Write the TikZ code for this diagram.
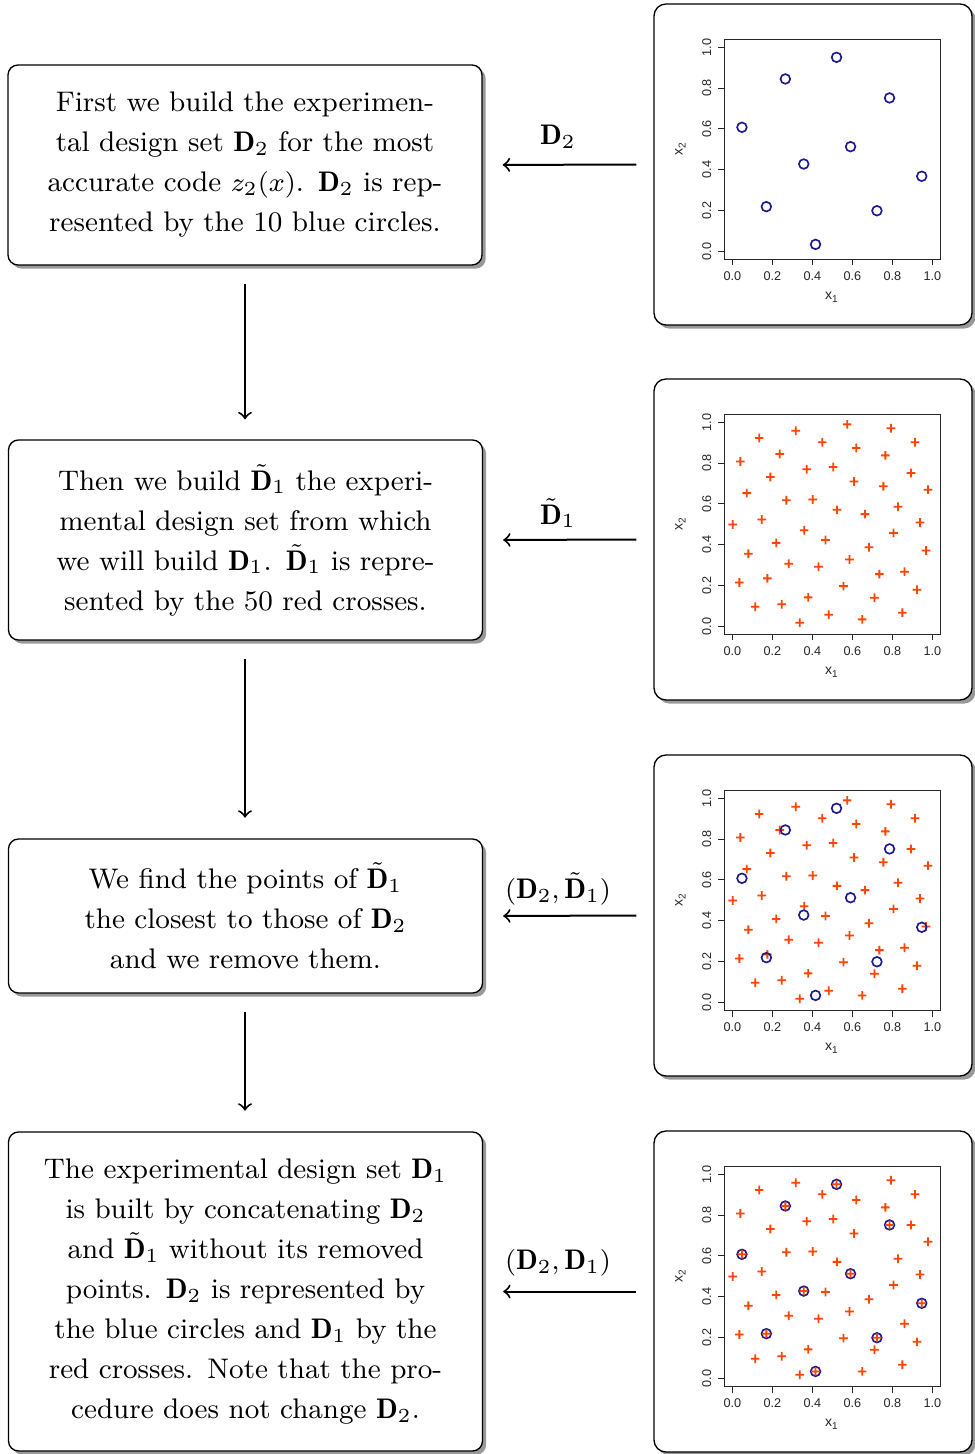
\documentclass[tikz,border=0pt]{standalone}
\usepackage{fontspec}
\newfontfamily\axisfont{Liberation Sans}
\usetikzlibrary{shadows}
\definecolor{ptblue}{RGB}{28,28,140}
\definecolor{ptred}{RGB}{255,69,0}
\tikzset{
  card/.style={draw=black, line width=0.4pt, fill=white,
    drop shadow={shadow xshift=1.1pt, shadow yshift=-1.1pt, fill=black!40, opacity=1}},
  textbox/.style={card, rounded corners=3pt, align=center, inner xsep=0pt, inner ysep=0pt,
    text width=142.2pt},
  plotframe/.style={card, rounded corners=3.6pt, inner sep=0pt, minimum width=95.4pt, minimum height=96.3pt},
  arr/.style={->, line width=0.6pt},
  arrlabel/.style={inner sep=0pt},
  ticklab/.style={inner sep=0pt, font=\axisfont\fontsize{3.8}{4.5}\selectfont, text=black!85},
  axtitle/.style={inner sep=0pt, font=\axisfont\fontsize{4.2}{5}\selectfont, text=black!85},
  axline/.style={line width=0.3pt, draw=black!85},
  crs/.pic={\fill[ptred] (-1.3pt,-0.27pt) rectangle (1.3pt,0.27pt) (-0.27pt,-1.3pt) rectangle (0.27pt,1.3pt);},
  circ/.pic={\draw[ptblue, line width=0.5pt] (0,0) circle[radius=1.45pt];}
}
\def\circlepts{0.521/0.951,0.265/0.845,0.786/0.752,0.048/0.608,0.591/0.513,0.357/0.428,0.947/0.368,0.170/0.219,0.723/0.199,0.416/0.034}
\def\keptcrosses{0.793/0.971,0.317/0.959,0.134/0.923,0.449/0.902,0.913/0.902,0.619/0.874,0.765/0.838,0.040/0.808,0.372/0.770,0.504/0.781,0.190/0.732,0.608/0.710,0.893/0.752,0.978/0.670,0.270/0.618,0.402/0.622,0.828/0.586,0.523/0.571,0.002/0.499,0.147/0.524,0.938/0.509,0.806/0.458,0.466/0.423,0.219/0.409,0.683/0.388,0.080/0.356,0.586/0.328,0.282/0.307,0.431/0.292,0.861/0.268,0.035/0.215,0.556/0.197,0.923/0.179,0.379/0.142,0.711/0.140,0.114/0.096,0.247/0.108,0.850/0.067,0.649/0.034,0.337/0.018}
\def\removedcrosses{0.574/0.990,0.237/0.845,0.755/0.687,0.072/0.653,0.663/0.550,0.359/0.471,0.968/0.372,0.735/0.256,0.175/0.235,0.482/0.057}
% axes of one plot, in data coordinates; #1 = plot id
\newcommand\plotaxes[1]{%
  \draw[axline] (-0.04,-0.04) rectangle (1.04,1.04);
  \foreach \t/\l [count=\k] in {0/0.0,0.2/0.2,0.4/0.4,0.6/0.6,0.8/0.8,1/1.0}{
    \draw[axline] (\t,-0.04) -- ++(0,-1.8pt);
    \draw[axline] (-0.04,\t) -- ++(-1.8pt,0);
    \node[ticklab] (p#1x\k) at (\t,-0.1225) {\l};
    \node[ticklab, rotate=90] (p#1y\k) at (-0.128,\t) {\l};
  }
  \node[axtitle] (p#1xlab) at (0.495,-0.225) {x\raisebox{-0.4ex}{\fontsize{3}{3.5}\selectfont 1}};
  \node[axtitle, rotate=90] (p#1ylab) at (-0.26,0.5) {x\raisebox{-0.4ex}{\fontsize{3}{3.5}\selectfont 2}};
}
\begin{document}
\begin{tikzpicture}[x=0.3pt, y=-0.3pt, font=\fontsize{8.5}{12}\selectfont]
\useasboundingbox (0,0) rectangle (974,1454);

% text boxes
\node[textbox, minimum height=60pt] (b1) at (245,165) {%
First we build the experimen-\\
tal design set $\mathbf{D}_2$ for the most\\
accurate code $z_2(x)$. $\mathbf{D}_2$ is rep-\\
resented by the 10 blue circles.};
\node[textbox, minimum height=60pt] (b2) at (245.5,540) {%
Then we build $\tilde{\mathbf{D}}_1$ the experi-\\
mental design set from which\\
we will build $\mathbf{D}_1$. $\tilde{\mathbf{D}}_1$ is repre-\\
sented by the 50 red crosses.};
\node[textbox, minimum height=46.2pt] (b3) at (245.5,916) {%
We find the points of $\tilde{\mathbf{D}}_1$\\
the closest to those of $\mathbf{D}_2$\\
and we remove them.};
\node[textbox, minimum height=95.7pt] (b4) at (245.5,1291.5) {%
The experimental design set $\mathbf{D}_1$\\
is built by concatenating $\mathbf{D}_2$\\
and $\tilde{\mathbf{D}}_1$ without its removed\\
points. $\mathbf{D}_2$ is represented by\\
the blue circles and $\mathbf{D}_1$ by the\\
red crosses. Note that the pro-\\
cedure does not change $\mathbf{D}_2$.};

% plot frames
\node[plotframe] (f1) at (813,164.5) {};
\node[plotframe] (f2) at (813,539.5) {};
\node[plotframe] (f3) at (813,915.5) {};
\node[plotframe] (f4) at (813,1291.5) {};

% plot 1: D2
\begin{scope}[shift={(f1.north west)}]\begin{scope}[shift={(79,248)}]\begin{scope}[x=60pt,y=61.2pt]
  \plotaxes{1}
  \foreach \a/\b in \circlepts {\pic at (\a,\b) {circ};}
\end{scope}\end{scope}\end{scope}

% plot 2: tilde D1
\begin{scope}[shift={(f2.north west)}]\begin{scope}[shift={(79,248)}]\begin{scope}[x=60pt,y=61.2pt]
  \plotaxes{2}
  \foreach \a/\b in \keptcrosses {\pic at (\a,\b) {crs};}
  \foreach \a/\b in \removedcrosses {\pic at (\a,\b) {crs};}
\end{scope}\end{scope}\end{scope}

% plot 3: D2 and tilde D1
\begin{scope}[shift={(f3.north west)}]\begin{scope}[shift={(79,248)}]\begin{scope}[x=60pt,y=61.2pt]
  \plotaxes{3}
  \foreach \a/\b in \keptcrosses {\pic at (\a,\b) {crs};}
  \foreach \a/\b in \removedcrosses {\pic at (\a,\b) {crs};}
  \foreach \a/\b in \circlepts {\pic at (\a,\b) {circ};}
\end{scope}\end{scope}\end{scope}

% plot 4: D2 and D1
\begin{scope}[shift={(f4.north west)}]\begin{scope}[shift={(79,248)}]\begin{scope}[x=60pt,y=61.2pt]
  \plotaxes{4}
  \foreach \a/\b in \circlepts {\pic at (\a,\b) {circ};}
  \foreach \a/\b in \keptcrosses {\pic at (\a,\b) {crs};}
  \foreach \a/\b in \circlepts {\pic at (\a,\b) {crs};}
\end{scope}\end{scope}\end{scope}

% horizontal arrows and labels
\draw[arr, shorten <=5.1pt, shorten >=6pt] (f1.west) -- (b1.east);
\draw[arr, shorten <=5.1pt, shorten >=6pt] (f2.west) -- (b2.east);
\draw[arr, shorten <=5.1pt, shorten >=6pt] (f3.west) -- (b3.east);
\draw[arr, shorten <=5.1pt, shorten >=6pt] (f4.west) -- (b4.east);
\node[arrlabel] (l1) at (558,137) {$\mathbf{D}_2$};
\node[arrlabel] (l2) at (558,513) {$\tilde{\mathbf{D}}_1$};
\node[arrlabel] (l3) at (558,889) {$(\mathbf{D}_2,\tilde{\mathbf{D}}_1)$};
\node[arrlabel] (l4) at (558,1263) {$(\mathbf{D}_2,\mathbf{D}_1)$};

% vertical arrows
\draw[arr, shorten <=5.4pt, shorten >=6pt] (b1.south) -- (b1.south |- b2.north);
\draw[arr, shorten <=5.4pt, shorten >=6.2pt] (b1.south |- b2.south) -- (b1.south |- b3.north);
\draw[arr, shorten <=5.4pt, shorten >=6.2pt] (b1.south |- b3.south) -- (b1.south |- b4.north);
\end{tikzpicture}
\end{document}
